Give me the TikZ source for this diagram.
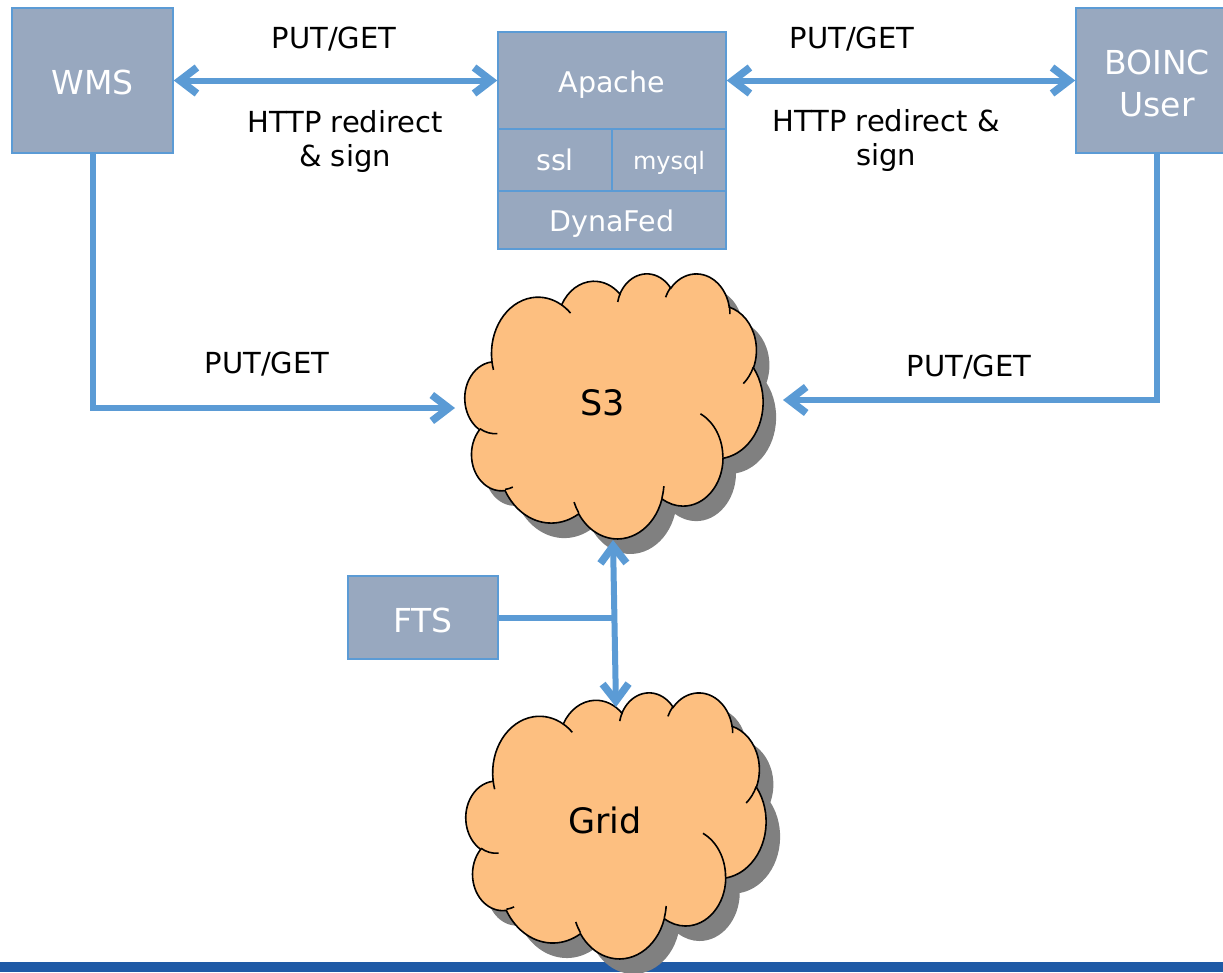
\documentclass[tikz,border=0pt]{standalone}
\usepackage{fontspec}
\setmainfont{DejaVu Sans}
\usetikzlibrary{arrows.meta}
\definecolor{boxc}{HTML}{98A8BF}
\definecolor{bordc}{HTML}{5B9BD5}
\definecolor{arrc}{HTML}{5B9BD5}
\definecolor{barc}{HTML}{1F5AA6}
\definecolor{cloudc}{HTML}{FDBF80}
\definecolor{shadc}{HTML}{808080}
\tikzset{declare function={pang(\t,\a,\b)=\t+Mod(atan2(\a*sin(\t),\b*cos(\t))-\t+180,360)-180;}}
\newcommand\carc[4]{arc[x radius=#1, y radius=#2, start angle={pang(#3,#1,#2)}, end angle={pang(#3+#4,#1,#2)}]}
\newcommand\low[2]{\raisebox{-#1pt}[\height][\depth]{#2}}
\newcommand\cloudouter{(39.00,143.70)
 \carc{67.53}{91.90}{-190.4875}{123.7805}
 \carc{53.33}{72.67}{-144.1024}{89.9452}
 \carc{43.65}{59.45}{-145.8079}{99.7230}
 \carc{48.57}{65.95}{-130.9861}{117.2417}
 \carc{53.33}{72.73}{-78.7089}{109.0269}
 \carc{67.75}{92.20}{-46.2673}{130.2690}
 \carc{57.85}{78.67}{0.6250}{114.0333}
 \carc{67.52}{92.15}{22.4516}{115.1726}
 \carc{77.20}{105.43}{66.2426}{75.7110}
 \carc{43.60}{59.18}{-274.9421}{146.7356}
 \carc{43.45}{59.45}{-246.8285}{152.5189}
 -- cycle}
\newcommand\cloudinner{(46.93,261.77) \carc{43.45}{59.45}{86.7420}{26.4295}
 (69.28,348.99) \carc{43.60}{59.18}{73.6105}{11.4475}
 (164.78,390.90) \carc{67.52}{92.15}{137.6242}{14.0811}
 (288.27,347.51) \carc{67.52}{92.15}{6.4533}{15.9984}
 (341.29,229.54) \carc{57.85}{78.67}{-70.2924}{70.9174}
 (417.98,153.54) \carc{53.33}{72.73}{30.3180}{27.7515}
 (383.24,54.26) \carc{48.57}{65.95}{-13.7443}{14.8589}
 (290.78,39.52) \carc{48.57}{65.95}{-149.1815}{18.1954}
 (221.41,47.20) \carc{43.65}{59.45}{-163.4943}{17.6864}
 (140.00,51.92) \carc{67.53}{91.90}{-66.7070}{12.3194}
 (41.27,157.89) \carc{67.53}{91.90}{157.6544}{11.8582}}
\begin{document}
\begin{tikzpicture}[x=1pt,y=-1pt,
  box/.style={draw=bordc,fill=boxc,line width=1.5pt,text=white,inner sep=0pt,align=center,font=\fontsize{33}{42}\selectfont},
  sbox/.style={box,font=\fontsize{28.5}{34}\selectfont},
  lbl/.style={inner sep=0pt,align=center,font=\fontsize{29}{34}\selectfont},
  clbl/.style={inner sep=0pt,font=\fontsize{35}{42}\selectfont},
  conn/.style={draw=arrc,line width=6pt},
  >={Straight Barb[length=17pt,width=26pt,line width=7.5pt]},
  cloudline/.style={draw=black,line width=1.6pt}]
\useasboundingbox (0,0) rectangle (1223,972);
\clip (0,0) rectangle (1223,972);
% bottom bar
\fill[barc] (0,962) rectangle (1223,972);
% S3 cloud
\begin{scope}[shift={(478,288)},x=0.6898pt,y=-0.6134pt]
  \fill[shadc] \cloudouter;
\end{scope}
\begin{scope}[shift={(465,273)},x=0.6898pt,y=-0.6134pt]
  \path[fill=cloudc,cloudline] \cloudouter;
  \path[cloudline] \cloudinner;
\end{scope}
\node[clbl] (s3) at (603,403) {S3};
% Grid cloud
\begin{scope}[shift={(480,707)},x=0.6944pt,y=-0.6157pt]
  \fill[shadc] \cloudouter;
\end{scope}
\begin{scope}[shift={(466,692)},x=0.6944pt,y=-0.6157pt]
  \path[fill=cloudc,cloudline] \cloudouter;
  \path[cloudline] \cloudinner;
\end{scope}
\node[clbl] (grid) at (605,820) {Grid};
% boxes
\node[box,minimum width=161pt,minimum height=145pt] (wms) at (92.5,80.5) {\low{2}{WMS}};
\node[box,minimum width=162pt,minimum height=145pt] (boinc) at (1157,80.5) {\low{3}{BOINC}\\\low{3}{User}};
\node[box,minimum width=150pt,minimum height=83pt] (fts) at (423,617.5) {\low{3}{FTS}};
\node[sbox,minimum width=228pt,minimum height=97pt] (apache) at (612,80.5) {\low{4}{Apache}};
\node[sbox,minimum width=114pt,minimum height=62pt] (ssl) at (555,160) {ssl};
\node[sbox,minimum width=114pt,minimum height=62pt,font=\fontsize{24}{30}\selectfont] (mysql) at (669,160) {\low{3}{mysql}};
\node[sbox,minimum width=228pt,minimum height=58pt] (dynafed) at (612,220) {\low{4}{DynaFed}};
% labels
\node[lbl] (l1) at (334,39.5) {PUT/GET};
\node[lbl] (l2) at (345,141) {HTTP redirect\\\& sign};
\node[lbl] (l3) at (852,39.5) {PUT/GET};
\node[lbl] (l4) at (886,140) {HTTP redirect \&\\sign};
\node[lbl] (l5) at (267,364.5) {PUT/GET};
\node[lbl] (l6) at (969,367.5) {PUT/GET};
% coordinates
\coordinate (s3w) at (455,408);
\coordinate (s3e) at (783,400);
\coordinate (s3b) at (613,540);
\coordinate (gridt) at (616,707);
\coordinate (junc) at (614.5,617.5);
% connectors
\draw[conn,<->] (wms.east) -- (apache.west);
\draw[conn,<->] (apache.east) -- (boinc.west);
\draw[conn,->] (wms.south) |- (s3w);
\draw[conn,->] (boinc.south) |- (s3e);
\draw[conn,<->] (s3b) -- (gridt);
\draw[conn] (fts.east) -- (junc);
\end{tikzpicture}
\end{document}
